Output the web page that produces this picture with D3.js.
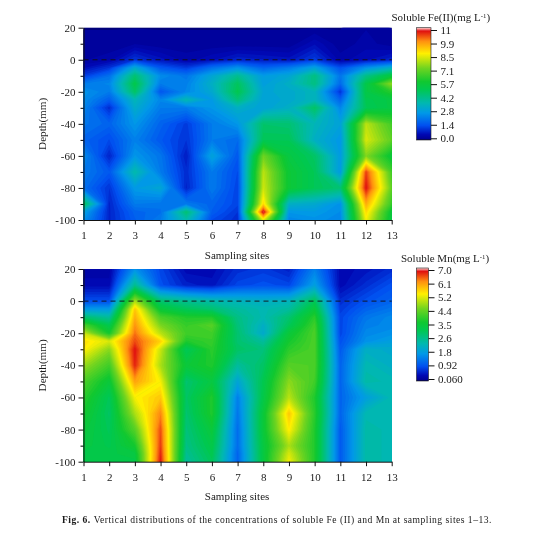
<!DOCTYPE html>
<html><head><meta charset="utf-8">
<script src="https://cdnjs.cloudflare.com/ajax/libs/d3/7.8.5/d3.min.js"></script>
<style>html,body{margin:0;background:#fff}svg{display:block;filter:blur(0.35px)}text{font-family:"Liberation Serif",serif;fill:#1a1a1a}</style>
</head><body><svg id="c" width="554" height="537"></svg>
<script>
const sites=[1,2,3,4,5,6,7,8,9,10,11,12,13];
const depths=[20,10,0,-5,-10,-15,-20,-25,-30,-40,-50,-60,-70,-80,-90,-95,-100];
const feValues=[
[.15,.15,.15,.15,.15,.15,.15,.15,.15,.15,.15,.3,.15],
[.2,.2,.3,.2,.2,.2,.2,.2,.2,.6,.2,.4,.2],
[.3,.4,1.1,.7,.4,.6,.9,.8,.7,1.2,.4,.6,.9],
[.6,1.1,3.2,1.6,1.2,2.0,2.6,1.8,2.2,3.0,1.5,2.6,3.4],
[1.2,2.0,4.6,2.5,2.1,3.1,4.2,2.8,3.1,4.4,2.1,4.3,5.5],
[2.2,2.4,5.2,2.2,2.3,3.4,4.9,2.9,3.4,4.4,1.9,5.2,7.6],
[2.6,2.2,4.8,1.6,2.4,3.2,5.1,3.1,3.2,3.6,1.1,5.3,6.2],
[2.5,1.7,3.6,2.4,3.7,2.8,4.5,3.0,3.2,3.6,1.8,5.1,5.4],
[2.4,1.0,3.3,2.2,2.2,2.7,3.4,3.0,3.4,4.8,2.4,5.0,5.4],
[2.1,1.8,2.7,1.8,1.2,2.2,2.7,4.7,4.6,3.6,3.0,8.0,6.6],
[1.8,1.4,2.3,1.6,1.1,2.2,1.9,5.0,5.0,3.4,2.7,8.3,7.0],
[2.5,.9,2.7,2.1,.8,3.0,1.6,7.2,5.4,4.8,2.8,7.4,5.6],
[2.2,1.6,3.8,2.2,1.0,2.2,1.4,8.0,5.7,5.0,2.8,10.6,6.6],
[2.0,1.1,2.8,3.1,.9,2.2,1.3,8.2,5.7,5.0,4.6,11.0,7.0],
[5.0,.9,2.2,2.1,2.2,1.8,1.3,9.0,3.4,3.2,2.6,9.6,6.4],
[3.0,.9,1.8,2.0,4.6,1.7,1.1,11.2,2.7,2.8,2.5,9.0,5.6],
[2.6,.9,1.7,2.2,3.8,1.4,1.0,8.4,2.4,2.6,2.4,8.6,5.4]];
const mnValues=[
[.3,.3,1.7,.9,.4,.4,.7,.8,.6,1.5,.4,.5,.7],
[.4,.4,2.7,1.0,.6,.5,.9,1.0,.9,1.9,.4,.7,1.0],
[1.0,1.0,5.0,3.0,2.7,2.5,2.3,2.2,2.3,3.2,.7,1.0,1.2],
[1.8,1.8,5.9,3.6,3.2,3.0,2.6,2.4,2.6,3.6,.8,1.2,1.4],
[3.0,2.6,6.1,4.3,3.9,3.9,2.8,2.4,3.0,4.0,.9,1.4,1.6],
[4.3,3.3,6.3,4.7,4.1,4.4,2.9,2.2,3.2,4.2,.9,1.5,1.6],
[5.2,3.8,6.5,5.1,4.2,4.2,3.0,2.1,3.6,4.3,.9,1.6,1.7],
[5.7,5.3,6.7,5.8,3.9,4.1,3.0,2.6,3.8,4.3,1.0,1.7,1.9],
[5.6,4.8,7.0,5.2,3.2,4.0,3.1,2.9,4.0,4.3,1.1,2.2,2.1],
[4.9,4.2,6.9,5.0,3.6,3.9,2.6,3.1,4.4,4.3,1.2,2.4,2.2],
[4.3,3.6,6.2,5.5,3.0,3.5,2.0,3.3,4.8,4.2,1.2,2.5,2.4],
[4.0,3.2,5.5,5.9,3.1,3.9,1.5,3.4,5.1,3.9,1.2,1.9,2.4],
[3.8,3.1,5.0,6.4,3.0,3.9,1.4,3.6,5.9,4.0,1.2,2.4,2.4],
[3.6,3.2,4.4,6.7,2.9,3.6,1.3,3.6,5.6,3.9,1.1,2.5,2.4],
[3.5,3.3,3.8,6.8,2.8,3.4,1.3,3.5,5.0,3.9,1.1,2.5,2.4],
[3.4,3.4,3.5,6.9,2.7,3.3,1.2,3.5,5.3,3.9,1.1,2.5,2.4],
[3.4,3.4,3.4,7.0,2.6,3.2,1.2,3.5,5.5,3.9,1.1,2.5,2.4]];
const feTicks=["0.0","1.4","2.8","4.2","5.7","7.1","8.5","9.9","11"];
const mnTicks=["0.060","0.92","1.8","2.6","3.5","4.4","5.2","6.1","7.0"];
const stopPos=[0,.01,.05,.13,.24,.33,.45,.52,.64,.77,.88,.97,1];
const stopCol=["#000040","#000094","#0008b4","#0050f0","#0098e8","#00b8b0","#00c850","#10c830","#70d420","#fff000","#ff9010","#e01010","#ffd8d8"];
const color=d3.scaleLinear().domain(stopPos).range(stopCol).clamp(true);
const svg=d3.select("#c");
const defs=svg.append("defs");
const left=83.5,right=391.7;

function panel(id,values,vmin,vmax,top,bottom,ticks,leg,title,titleX,titleY,capY){
  const x=d3.scaleLinear().domain([1,13]).range([left,right]);
  const y=d3.scaleLinear().domain([-100,20]).range([bottom,top]);
  const rowDepth=d3.scaleLinear().domain(d3.range(depths.length)).range(depths);
  const g=svg.append("g");
  defs.append("clipPath").attr("id",id).append("rect").attr("x",left).attr("y",top).attr("width",right-left).attr("height",bottom-top);
  const n=72, step=(vmax-vmin)/n;
  const th=d3.range(n).map(i=>vmin+i*step);
  const cs=d3.contours().size([sites.length,depths.length]).thresholds(th)(values.flat());
  const path=d3.geoPath(d3.geoTransform({point(a,b){this.stream.point(x(a+.5),y(rowDepth(b-.5)));}}));
  const plot=g.append("g").attr("clip-path",`url(#${id})`);
  plot.append("rect").attr("x",left).attr("y",top).attr("width",right-left).attr("height",bottom-top).attr("fill",color(.01));
  plot.selectAll("path").data(cs).join("path").attr("d",path).attr("fill",d=>color((d.value+step/2-vmin)/(vmax-vmin)));
  g.append("line").attr("x1",left).attr("x2",right).attr("y1",y(0)).attr("y2",y(0)).attr("stroke","#111").attr("stroke-width",.9).attr("stroke-dasharray","5 4");
  const xa=g.append("g").attr("transform",`translate(0,${bottom})`).call(d3.axisBottom(x).tickValues(sites).tickFormat(d3.format("d")).tickSize(4.5).tickSizeOuter(0));
  const ya=g.append("g").attr("transform",`translate(${left},0)`).call(d3.axisLeft(y).tickValues(d3.range(-100,21,20)).tickFormat(d=>String(d)).tickSize(5).tickSizeOuter(0));
  g.append("g").attr("transform",`translate(${left},0)`).call(d3.axisLeft(y).tickValues(d3.range(-90,20,20)).tickFormat("").tickSize(3).tickSizeOuter(0)).select(".domain").remove();
  [xa,ya].forEach(a=>{a.selectAll("text").attr("font-size",11).attr("font-family","Liberation Serif").attr("fill","#1a1a1a");a.selectAll("line,path").attr("stroke","#111");});
  xa.selectAll("text").attr("dy","1.05em");
  g.append("text").attr("x",(left+right)/2-.5).attr("y",capY).attr("text-anchor","middle").attr("font-size",11).text("Sampling sites");
  g.append("text").attr("transform",`translate(46,${(top+bottom)/2}) rotate(-90)`).attr("text-anchor","middle").attr("font-size",11.2).text("Depth(mm)");
  const gid=id+"g";
  const lg=defs.append("linearGradient").attr("id",gid).attr("x1",0).attr("x2",0).attr("y1",1).attr("y2",0);
  stopPos.forEach((p,i)=>lg.append("stop").attr("offset",p).attr("stop-color",stopCol[i]));
  g.append("rect").attr("x",leg.x0).attr("y",leg.top).attr("width",leg.x1-leg.x0).attr("height",leg.bot-leg.top).attr("fill",`url(#${gid})`).attr("stroke","#222").attr("stroke-width",.6);
  const ls=d3.scalePoint().domain(ticks).range([leg.t0,leg.t1]);
  const la=g.append("g").attr("transform",`translate(${leg.x1},0)`).call(d3.axisRight(ls).tickSize(6).tickPadding(3.5).tickSizeOuter(0));
  la.select(".domain").remove();
  la.selectAll("text").attr("font-size",11).attr("font-family","Liberation Serif").attr("fill","#1a1a1a");
  la.selectAll("line").attr("stroke","#111");
  const t=g.append("text").attr("x",titleX).attr("y",titleY).attr("font-size",11);
  t.append("tspan").text(title+"(mg L");
  t.append("tspan").attr("dy",-3).attr("font-size",6.8).text("-1");
  t.append("tspan").attr("dy",3).text(")");
}
panel("fe",feValues,0,11.3,27.7,220,feTicks,{x0:416.5,x1:431,top:27.7,bot:140,t0:138.3,t1:30},"Soluble Fe(II)",391.5,20.5,259);
panel("mn",mnValues,.06,7.2,269,461.7,mnTicks,{x0:416.5,x1:428.5,top:268,bot:381,t0:379,t1:270},"Soluble Mn",401,261.5,500);
const cap=svg.append("text").attr("x",62).attr("y",523).attr("font-size",9.6).attr("letter-spacing",".48");
cap.append("tspan").attr("font-weight","bold").text("Fig. 6.");
cap.append("tspan").attr("dx",3).text("Vertical distributions of the concentrations of soluble Fe (II) and Mn at sampling sites 1–13.");
</script></body></html>
